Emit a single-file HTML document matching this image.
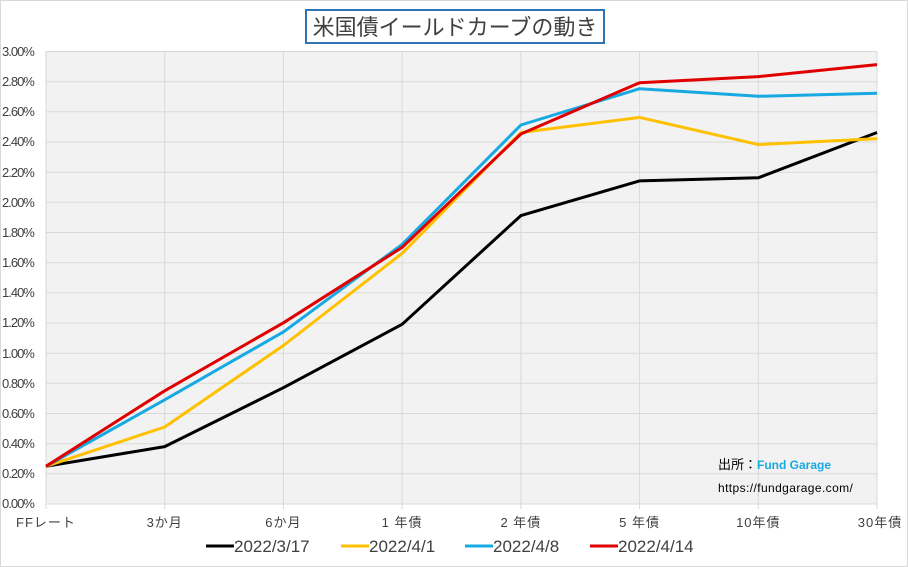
<!DOCTYPE html>
<html><head><meta charset="utf-8"><style>
html,body{margin:0;padding:0;background:#fff}
svg{display:block;font-family:"Liberation Sans","Noto Sans CJK JP",sans-serif}
</style></head><body>
<svg width="908" height="567" viewBox="0 0 908 567">
<rect x="0.5" y="0.5" width="907" height="566" fill="#fff" stroke="#d9d9d9"/>
<rect x="306" y="10" width="298" height="33" fill="#fff" stroke="#2e75b6" stroke-width="2"/>
<text x="455" y="35" font-size="22" text-anchor="middle" fill="#404040">米国債イールドカーブの動き</text>
<rect x="46" y="51.5" width="831" height="452.5" fill="#f2f2f2"/>
<g stroke="#d9d9d9" stroke-width="1">
<line x1="46" x2="877" y1="51.5" y2="51.5"/><line x1="46" x2="877" y1="81.7" y2="81.7"/><line x1="46" x2="877" y1="111.8" y2="111.8"/><line x1="46" x2="877" y1="142" y2="142"/><line x1="46" x2="877" y1="172.2" y2="172.2"/><line x1="46" x2="877" y1="202.3" y2="202.3"/><line x1="46" x2="877" y1="232.5" y2="232.5"/><line x1="46" x2="877" y1="262.7" y2="262.7"/><line x1="46" x2="877" y1="292.8" y2="292.8"/><line x1="46" x2="877" y1="323" y2="323"/><line x1="46" x2="877" y1="353.2" y2="353.2"/><line x1="46" x2="877" y1="383.3" y2="383.3"/><line x1="46" x2="877" y1="413.5" y2="413.5"/><line x1="46" x2="877" y1="443.7" y2="443.7"/><line x1="46" x2="877" y1="473.8" y2="473.8"/><line x1="46" x2="877" y1="504" y2="504"/>
<line y1="51.5" y2="509" x1="46" x2="46"/><line y1="51.5" y2="509" x1="164.7" x2="164.7"/><line y1="51.5" y2="509" x1="283.4" x2="283.4"/><line y1="51.5" y2="509" x1="402.1" x2="402.1"/><line y1="51.5" y2="509" x1="520.9" x2="520.9"/><line y1="51.5" y2="509" x1="639.6" x2="639.6"/><line y1="51.5" y2="509" x1="758.3" x2="758.3"/><line y1="51.5" y2="509" x1="877" x2="877"/>
</g>
<g font-size="13" fill="#404040" letter-spacing="-1">
<text x="2" y="56">3.00%</text><text x="2" y="86">2.80%</text><text x="2" y="116">2.60%</text><text x="2" y="146">2.40%</text><text x="2" y="177">2.20%</text><text x="2" y="207">2.00%</text><text x="2" y="237">1.80%</text><text x="2" y="267">1.60%</text><text x="2" y="297">1.40%</text><text x="2" y="327">1.20%</text><text x="2" y="358">1.00%</text><text x="2" y="388">0.80%</text><text x="2" y="418">0.60%</text><text x="2" y="448">0.40%</text><text x="2" y="478">0.20%</text><text x="2" y="508">0.00%</text>
</g>
<g font-size="13" fill="#404040" text-anchor="middle" letter-spacing="1">
<text x="46" y="527">FFレート</text><text x="164.7" y="527">3か月</text><text x="283.4" y="527">6か月</text><text x="402.1" y="527">1 年債</text><text x="520.9" y="527">2 年債</text><text x="639.6" y="527">5 年債</text><text x="758.3" y="527">10年債</text><text x="880" y="527">30年債</text>
</g>
<g fill="none" stroke-width="3" stroke-linejoin="round">
<polyline stroke="#000" points="46,466.3 164.7,446.6 283.4,387.7 402.1,324.3 520.9,215.6 639.6,180.9 758.3,177.8 877,132.5"/>
<polyline stroke="#ffc000" points="46,466.3 164.7,427 283.4,345.5 402.1,253.4 520.9,132.5 639.6,117.4 758.3,144.6 877,138.6"/>
<polyline stroke="#17a9e1" points="46,466.3 164.7,399.8 283.4,331.9 402.1,244.4 520.9,125 639.6,88.7 758.3,96.3 877,93.3"/>
<polyline stroke="#e00000" points="46,466.3 164.7,390.8 283.4,322.8 402.1,247.4 520.9,134 639.6,82.7 758.3,76.6 877,64.6"/>
</g>
<text x="718" y="469" font-size="13" fill="#000">出所：<tspan fill="#17a9e1" font-weight="bold" font-size="12">Fund Garage</tspan></text>
<text x="718" y="492" font-size="12" fill="#000" letter-spacing="0.4">https://fundgarage.com/</text>
<g font-size="17" fill="#404040">
<line x1="206" x2="234" y1="546" y2="546" stroke="#000" stroke-width="3"/><text x="234" y="552">2022/3/17</text>
<line x1="341" x2="369" y1="546" y2="546" stroke="#ffc000" stroke-width="3"/><text x="369" y="552">2022/4/1</text>
<line x1="465" x2="493" y1="546" y2="546" stroke="#17a9e1" stroke-width="3"/><text x="493" y="552">2022/4/8</text>
<line x1="590" x2="618" y1="546" y2="546" stroke="#e00000" stroke-width="3"/><text x="618" y="552">2022/4/14</text>
</g>
</svg>
</body></html>
